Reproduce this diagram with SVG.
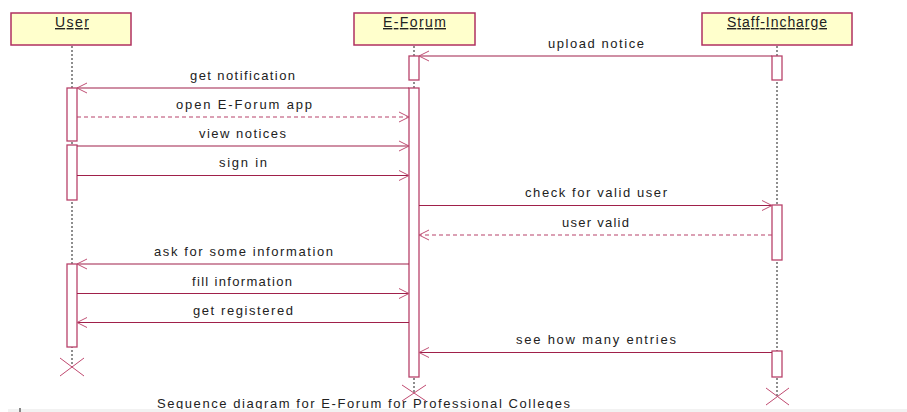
<svg xmlns="http://www.w3.org/2000/svg" width="907" height="412" viewBox="0 0 907 412">
  <style>
    .obj { fill: #ffffcc; stroke: #b03060; stroke-width: 1.5; }
    .objtxt { font-family: "Liberation Sans", Arial, sans-serif; font-size: 14px; fill: #222; text-decoration: underline; }
    .life { stroke: #444; stroke-width: 1.2; stroke-dasharray: 2 2; fill: none; }
    .act { fill: #ffffff; stroke: #b8426a; stroke-width: 1.3; }
    .msg { stroke: #a0204a; stroke-width: 1.2; fill: none; marker-end: url(#open); }
    .ret { stroke: #b8426a; stroke-width: 1.2; fill: none; stroke-dasharray: 4 3; marker-end: url(#open); }
    .lbl { font-family: "Liberation Sans", Arial, sans-serif; font-size: 13px; fill: #222; }
    .x { stroke: #c04a70; stroke-width: 1; fill: none; }
    .cap { font-family: "Liberation Sans", Arial, sans-serif; font-size: 13px; fill: #222; }
  </style>
  <defs>
    <marker id="open" viewBox="0 0 12 12" refX="11" refY="6" markerWidth="12" markerHeight="12" markerUnits="userSpaceOnUse" orient="auto">
      <path d="M1,1 L11,6 L1,11" fill="none" stroke="#c05075" stroke-width="1"/>
    </marker>
  </defs>
  <rect width="907" height="412" fill="#ffffff"/>

  <!-- lifelines -->
  <g id="lifelines">
    <line class="life" x1="72" y1="46" x2="72" y2="367"/>
    <line class="life" x1="414" y1="46" x2="414" y2="393"/>
    <line class="life" x1="777" y1="46" x2="777" y2="396"/>
  </g>

  <!-- objects -->
  <g id="user">
    <rect class="obj" x="11" y="13" width="120" height="32"/>
    <text class="objtxt" x="55" y="27" textLength="34" lengthAdjust="spacing">User</text>
    <rect class="act" x="67" y="88" width="10" height="53"/>
    <rect class="act" x="67" y="145" width="10" height="55"/>
    <rect class="act" x="67" y="264" width="10" height="83"/>
    <path class="x" d="M60,358 L84,376 M60,376 L84,358"/>
  </g>
  <g id="eforum">
    <rect class="obj" x="354" y="13" width="121" height="32"/>
    <text class="objtxt" x="383" y="27" textLength="63" lengthAdjust="spacing">E-Forum</text>
    <rect class="act" x="409" y="56" width="10" height="24"/>
    <rect class="act" x="409" y="88" width="10" height="289"/>
    <path class="x" d="M402,385 L426,401 M402,401 L426,385"/>
  </g>
  <g id="staff">
    <rect class="obj" x="702" y="13" width="150" height="32"/>
    <text class="objtxt" x="727" y="27" textLength="100" lengthAdjust="spacing">Staff-Incharge</text>
    <rect class="act" x="772" y="56" width="10" height="24"/>
    <rect class="act" x="772" y="205" width="10" height="55"/>
    <rect class="act" x="772" y="351" width="10" height="26"/>
    <path class="x" d="M766,388 L789,405 M766,405 L789,388"/>
  </g>

  <!-- messages -->
  <g id="connectors">
    <line class="msg" x1="772" y1="56" x2="419" y2="56"/>
    <line class="msg" x1="409" y1="88" x2="77" y2="88"/>
    <line class="ret" x1="77" y1="117" x2="409" y2="117"/>
    <line class="msg" x1="77" y1="146" x2="409" y2="146"/>
    <line class="msg" x1="77" y1="175.5" x2="409" y2="175.5"/>
    <line class="msg" x1="419" y1="205.5" x2="772" y2="205.5"/>
    <line class="ret" x1="772" y1="235" x2="419" y2="235"/>
    <line class="msg" x1="409" y1="264" x2="77" y2="264"/>
    <line class="msg" x1="77" y1="293.5" x2="409" y2="293.5"/>
    <line class="msg" x1="409" y1="322.5" x2="77" y2="322.5"/>
    <line class="msg" x1="772" y1="352.5" x2="419" y2="352.5"/>
  </g>

  <!-- message labels -->
  <g id="labels">
    <text class="lbl" x="548" y="48" textLength="96" lengthAdjust="spacing">upload notice</text>
    <text class="lbl" x="190" y="80" textLength="105" lengthAdjust="spacing">get notification</text>
    <text class="lbl" x="176" y="109" textLength="136" lengthAdjust="spacing">open E-Forum app</text>
    <text class="lbl" x="199" y="138" textLength="87" lengthAdjust="spacing">view notices</text>
    <text class="lbl" x="219" y="167" textLength="48" lengthAdjust="spacing">sign in</text>
    <text class="lbl" x="525" y="197" textLength="142" lengthAdjust="spacing">check for valid user</text>
    <text class="lbl" x="562" y="226.5" textLength="67" lengthAdjust="spacing">user valid</text>
    <text class="lbl" x="154" y="256" textLength="179" lengthAdjust="spacing">ask for some information</text>
    <text class="lbl" x="192" y="285.5" textLength="100" lengthAdjust="spacing">fill information</text>
    <text class="lbl" x="193" y="314.5" textLength="100" lengthAdjust="spacing">get registered</text>
    <text class="lbl" x="516" y="344" textLength="160" lengthAdjust="spacing">see how many entries</text>
  </g>

  <!-- caption and bottom strip -->
  <text class="cap" x="157" y="408" textLength="413" lengthAdjust="spacing">Sequence diagram for E-Forum for Professional Colleges</text>
  <rect x="8" y="409" width="899" height="3" fill="#f2f2f2"/>
  <rect x="19" y="408" width="2" height="4" fill="#888"/>
</svg>
